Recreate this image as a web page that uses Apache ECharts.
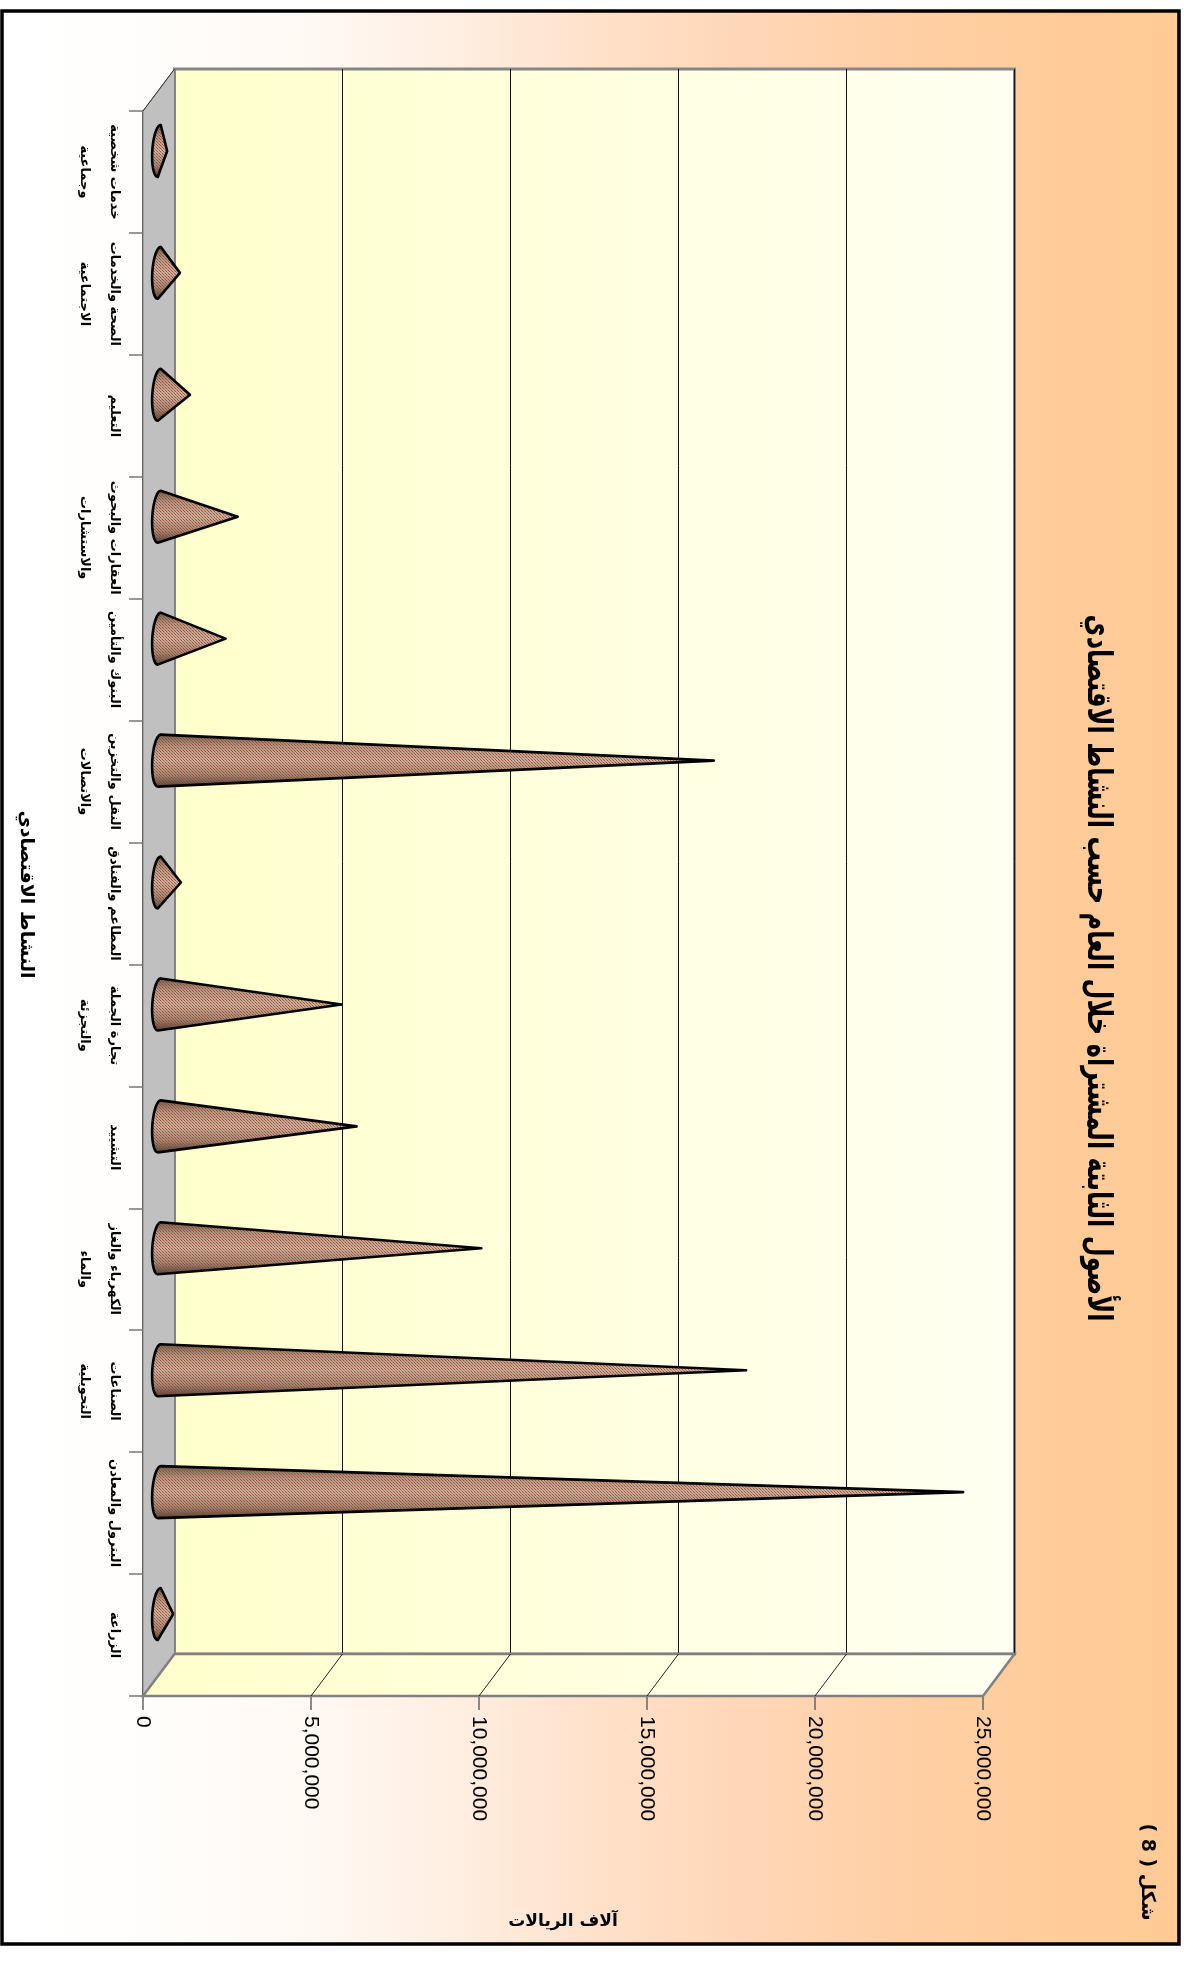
<!DOCTYPE html>
<html>
<head>
<meta charset="utf-8">
<style>html,body{margin:0;padding:0;background:#fff}#c{width:1184px;height:1961px}</style>
<script src="https://cdn.jsdelivr.net/npm/echarts@6/dist/echarts.min.js"></script>
</head>
<body>
<div id="c" dir="rtl"></div>
<script>
const categories = [
  'الزراعة',
  'البترول والمعادن',
  'الصناعات\nالتحويلية',
  'الكهرباء والغاز\nوالماء',
  'التشييد',
  'تجارة الجملة\nوالتجزئة',
  'المطاعم والفنادق',
  'النقل والتخزين\nوالاتصالات',
  'البنوك والتأمين',
  'العقارات والبحوث\nوالاستشارات',
  'التعليم',
  'الصحة والخدمات\nالاجتماعية',
  'خدمات شخصية\nوجماعية'
];
const values = [430000, 23940000, 17480000, 9600000, 5890000, 5440000, 660000, 16520000, 1990000, 2350000, 930000, 630000, 250000];
const axisTicks = [0, 5000000, 10000000, 15000000, 20000000, 25000000];
const titleText = 'الأصول الثابتة المشتراة خلال العام حسب النشاط الاقتصادي';
const figureText = 'شكل ( 8 )';
const xAxisTitle = 'آلاف الريالات';
const yAxisTitle = 'النشاط الاقتصادي';

const DX = 31.5, DY = -42;           // 3-D depth of the box
const ARABIC = '"DejaVu Sans", sans-serif';
const wallGrad = {type:'linear',x:0,y:0,x2:1,y2:0,colorStops:[{offset:0,color:'#FFFFCC'},{offset:1,color:'#FFFFF2'}]};

const dots = document.createElement('canvas');
dots.width = 3; dots.height = 3;
(function(){
  const g = dots.getContext('2d');
  g.fillStyle = 'rgba(140,66,36,0.8)';
  g.fillRect(0,0,1,1); g.fillRect(1,1,1,1);
  g.fillStyle = 'rgba(90,80,80,0.45)';
  g.fillRect(2,2,1,1);
})();

function renderBox(params, api){
  const r = params.coordSys;
  const L = r.x, R = r.x + r.width, T = r.y, B = r.y + r.height;
  return {type:'group', silent:true, children:[
    {type:'polygon', shape:{points:[[L,T],[L+DX,T+DY],[L+DX,B+DY],[L,B]]},
     style:{fill:'#C0C0C0', stroke:'#808080', lineWidth:1}},
    {type:'polygon', shape:{points:[[L,B],[L+DX,B+DY],[R+DX,B+DY],[R,B]]},
     style:{fill:wallGrad, stroke:'#808080', lineWidth:2.5}},
    {type:'line', shape:{x1:L,y1:T,x2:L+DX,y2:T+DY}, style:{stroke:'#333', lineWidth:1}}
  ]};
}
function renderFloorLine(params, api){
  const p = api.coord([api.value(0), 0]);
  const r = params.coordSys, B = r.y + r.height;
  return {type:'line', silent:true, shape:{x1:p[0],y1:B,x2:p[0]+DX,y2:B+DY}, style:{stroke:'#222', lineWidth:1}};
}
function renderCone(params, api){
  const tip = api.coord([api.value(0), api.value(1)]);
  const base = api.coord([0, api.value(1)]);
  const cx = base[0] + DX/2, cy = base[1] + DY/2, tx = tip[0] + DX/2;
  const pts = [];
  for (let a = -90; a <= 90; a += 10){
    const s = Math.sin(a*Math.PI/180), c = Math.cos(a*Math.PI/180);
    pts.push([cx + 0.5 - 1.5*s - 7*c, cy + 26*s]);
  }
  pts.push([tx, cy]);
  const shade = {type:'linear',x:0,y:0,x2:0,y2:1,colorStops:[
    {offset:0,color:'#72604F'},{offset:0.22,color:'#BC9682'},{offset:0.5,color:'#D2AE9C'},
    {offset:0.78,color:'#A88672'},{offset:1,color:'#55463E'}]};
  return {type:'group', silent:true, children:[
    {type:'polygon', shape:{points:pts}, style:{fill:shade, stroke:null}},
    {type:'polygon', shape:{points:pts}, style:{fill:{image:dots,repeat:'repeat'}, stroke:'#000', lineWidth:2.6, lineJoin:'round'}}
  ]};
}

const chart = echarts.init(document.getElementById('c'), null, {renderer:'canvas'});
chart.setOption({
  animation:false,
  backgroundColor:'#fff',
  grid:[
    {left:174.5, top:69, width:840, height:1585, show:true, backgroundColor:wallGrad, borderColor:'#868686', borderWidth:3, containLabel:false},
    {left:143, top:111, width:840, height:1585, containLabel:false}
  ],
  xAxis:[
    {gridIndex:0, type:'value', min:0, max:25000000, interval:5000000, axisLine:{show:false}, axisTick:{show:false}, axisLabel:{show:false},
     splitLine:{show:true, lineStyle:{color:'#111', width:1}}},
    {gridIndex:1, type:'value', min:0, max:25000000, interval:5000000, splitLine:{show:false},
     axisLine:{show:true, lineStyle:{color:'#666', width:2}},
     axisTick:{show:true, length:14, lineStyle:{color:'#666', width:1.5}},
     axisLabel:{rotate:-90, margin:20, fontFamily:'"Liberation Sans", Arial, sans-serif', fontSize:21, color:'#000'},
     name:xAxisTitle, nameLocation:'middle', nameGap:217, nameRotate:0,
     nameTextStyle:{fontFamily:ARABIC, fontWeight:'bold', fontSize:17, color:'#000'}}
  ],
  yAxis:[
    {gridIndex:0, type:'category', data:categories, show:false},
    {gridIndex:1, type:'category', data:categories,
     axisLine:{show:true, lineStyle:{color:'#111', width:1.5}},
     axisTick:{show:true, length:14, lineStyle:{color:'#777', width:1.5}},
     splitLine:{show:false},
     axisLabel:{rotate:-90, margin:14, align:'center', verticalAlign:'top', fontFamily:ARABIC, fontWeight:'bold', fontSize:13, lineHeight:30, color:'#000', interval:0},
     name:yAxisTitle, nameLocation:'middle', nameGap:108, nameRotate:-90,
     nameTextStyle:{fontFamily:ARABIC, fontWeight:'bold', fontSize:19, color:'#000', padding:[0,18,0,0]}}
  ],
  graphic:[
    {type:'rect', z:-10, silent:true, shape:{x:2,y:11,width:1177,height:1933},
     style:{fill:{type:'linear',x:0,y:0,x2:1,y2:0,colorStops:[
       {offset:0,color:'#FFFFFF'},{offset:0.1,color:'#FFFEFD'},{offset:0.26,color:'#FFF9F4'},{offset:0.385,color:'#FFEEE2'},{offset:0.515,color:'#FFE0C8'},{offset:0.64,color:'#FFD6B6'},{offset:0.77,color:'#FFCFA5'},{offset:0.9,color:'#FFCC99'},{offset:1,color:'#FFCA96'}]},
       stroke:'#000', lineWidth:3.5}},
    {type:'text', silent:true, x:1097, y:968, rotation:-Math.PI/2, scaleX:0.71,
     style:{text:titleText, font:'bold 34px '+ARABIC, fill:'#000', align:'center', verticalAlign:'middle'}},
    {type:'text', silent:true, x:1147, y:1872, rotation:-Math.PI/2,
     style:{text:figureText, font:'bold 19px '+ARABIC, fill:'#000', align:'center', verticalAlign:'middle'}}
  ],
  series:[
    {type:'custom', name:'box', xAxisIndex:1, yAxisIndex:1, z:1, silent:true, clip:false, data:[[0,0]], encode:{x:0,y:1}, renderItem:renderBox},
    {type:'custom', name:'floor', xAxisIndex:1, yAxisIndex:1, z:1, silent:true, clip:false, data:axisTicks.slice(1,5).map(v=>[v,0]), encode:{x:0,y:1}, renderItem:renderFloorLine},
    {type:'custom', name:'cones', xAxisIndex:1, yAxisIndex:1, z:3, silent:true, clip:false, data:values.map((v,i)=>[v,i]), encode:{x:0,y:1}, renderItem:renderCone}
  ]
});
</script>
</body>
</html>
